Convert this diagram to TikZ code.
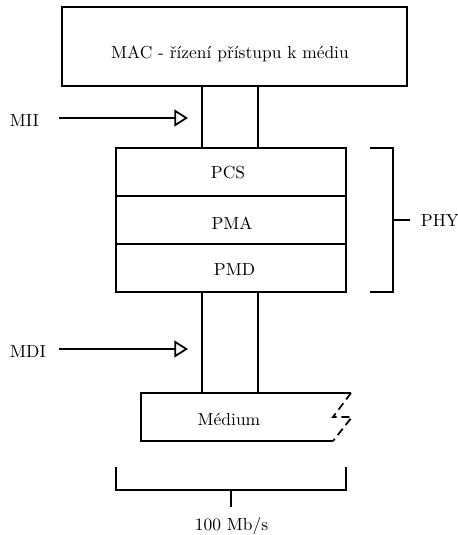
\documentclass[tikz,border=0pt]{standalone}
\usepackage{fontspec}
\usetikzlibrary{arrows.meta}
\begin{document}
\begin{tikzpicture}[x=0.625pt,y=-0.625pt,
  line width=1.1pt,
  font=\fontsize{10.9}{13}\selectfont,
  label/.style={inner sep=0pt,anchor=base},
  feed/.style={-{Triangle[open,length=8.5pt,width=10.5pt,line width=1.1pt]}}]
\useasboundingbox (0,0) rectangle (458,535);

% MAC sublayer
\draw (62,7) rectangle (407,86);
\node[label] (mac) at (230,58) {MAC - řízení přístupu k médiu};

% interface columns
\draw (202,86) rectangle (258,148);
\draw (202,292) rectangle (258,393);

% PHY sublayers
\draw (116,148) rectangle (346,196);
\draw (116,196) rectangle (346,244);
\draw (116,244) rectangle (346,292);
\node[label] (pcs) at (228,178) {PCS};
\node[label] (pma) at (232,229) {PMA};
\node[label] (pmd) at (234.5,275) {PMD};

% medium with broken right edge
\draw (333,441) -- (141,441) -- (141,393) -- (351,393);
\draw[dash pattern=on 5pt off 3pt] (351,393) -- (333,417) -- (352,417) -- (333,441);
\node[label] (med) at (229,425) {Médium};

% interface labels and arrows
\node[label] (mii) at (24.5,126) {MII};
\coordinate (miitip) at (188,118);
\draw[feed] (59,118) -- (miitip);
\node[label] (mdi) at (28,357) {MDI};
\coordinate (mditip) at (188,349);
\draw[feed] (59,349) -- (mditip);

% PHY brace
\draw (370,148) -- (393,148) -- (393,292) -- (370,292);
\coordinate (phytick) at (393,220);
\draw (phytick) -- (410,220);
\node[label] (phy) at (440,226) {PHY};

% speed brace
\draw (116,467) -- (116,490) -- (346,490) -- (346,467);
\coordinate (speedtick) at (231,490);
\draw (speedtick) -- (231,507);
\node[label] (speed) at (231.5,530) {100 Mb/s};
\end{tikzpicture}
\end{document}
